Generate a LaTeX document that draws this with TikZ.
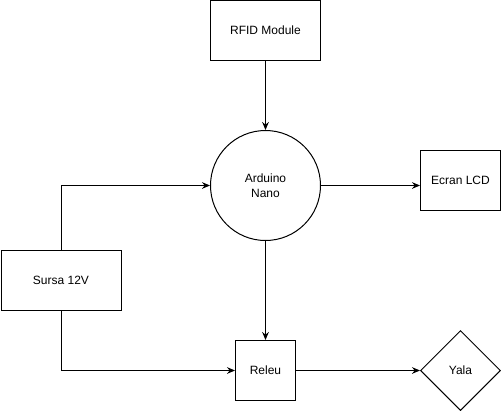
\documentclass[tikz,border=0pt]{standalone}
\usepackage{fontspec}
\setmainfont{Liberation Sans}
\usepackage{tikz}
\usetikzlibrary{positioning,shapes.geometric,arrows.meta}

\begin{document}
\begin{tikzpicture}[
    x=0.75pt, y=-0.75pt,
    every node/.style={draw=black, line width=0.75pt, inner sep=0pt, font=\fontsize{9}{11}\selectfont, align=center},
    block/.style={rectangle},
    link/.style={line width=0.75pt, -{Stealth[length=6pt, width=5pt]}}
]
    \useasboundingbox (-0.5,-0.5) rectangle (500.5,410.5);
    \node [block, minimum width=82.5pt, minimum height=45pt] (rfid) at (265,30) {RFID Module};
    \node [circle, minimum size=82.5pt] (nano) at (265,185) {Arduino\\Nano};
    \node [block, minimum width=60pt, minimum height=45pt] (lcd) at (460,180) {Ecran LCD};
    \node [block, minimum width=90pt, minimum height=45pt] (sursa) at (60.5,280) {Sursa 12V};
    \node [block, minimum width=45pt, minimum height=45pt] (releu) at (265,370) {Releu};
    \node [diamond, minimum width=60pt, minimum height=60pt] (yala) at (460,370) {Yala};

    \draw [link] (rfid.south) -- (nano.north);
    \draw [link] (nano.east) -- (nano.east -| lcd.west);
    \draw [link] (sursa.north) |- (nano.west);
    \draw [link] (nano.south) -- (releu.north);
    \draw [link] (sursa.south) |- (releu.west);
    \draw [link] (releu.east) -- (yala.west);
\end{tikzpicture}
\end{document}
